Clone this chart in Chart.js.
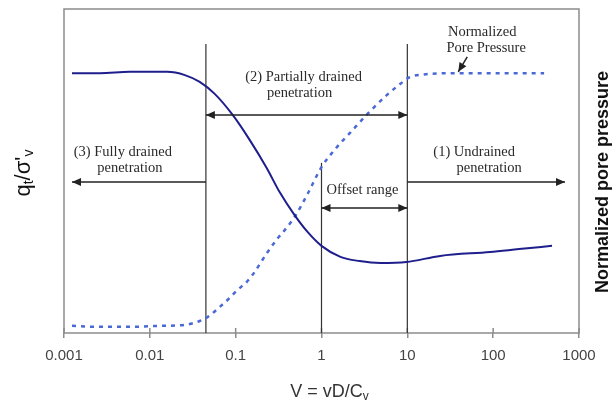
<!DOCTYPE html>
<html lang="en">
<head>
<meta charset="UTF-8">
<title>Normalized cone resistance and pore pressure vs V</title>
<script src="https://cdn.jsdelivr.net/npm/chart.js"></script>
<style>
  html, body { margin: 0; padding: 0; background: #fff; }
  #chart { display: block; }
</style>
</head>
<body>
<canvas id="chart" width="616" height="403"></canvas>
<script>
// x axis (log) ticks
const tickValues = [0.001, 0.01, 0.1, 1, 10, 100, 1000];
const tickLabels = ['0.001', '0.01', '0.1', '1', '10', '100', '1000'];

// qt/sigma'v curve (solid), y in arbitrary units 0-100
const resistV = [0.00124, 0.00262, 0.00585, 0.0158, 0.0256, 0.0381, 0.057, 0.0923, 0.1455, 0.229, 0.325, 0.486, 0.688, 1.0, 1.66, 2.77, 4.86, 9.73, 24.2, 92, 200, 485];
const resistQ = [80.2, 80.2, 80.6, 80.6, 79.6, 77.5, 73.8, 67.3, 59.6, 51.0, 43.5, 36.4, 31.2, 26.9, 23.5, 22.2, 21.6, 21.9, 23.8, 25.0, 25.9, 26.9];

// normalized pore pressure (dotted)
const poreV = [0.00124, 0.00262, 0.00585, 0.013, 0.0256, 0.0381, 0.047, 0.065, 0.085, 0.105, 0.134, 0.166, 0.229, 0.30, 0.39, 0.486, 0.688, 1.0, 1.45, 2.19, 3.43, 5.8, 8.3, 10.7, 15.7, 40, 392];
const poreU = [2.2, 1.9, 1.9, 2.2, 2.5, 3.7, 4.9, 8.0, 10.8, 13.3, 15.7, 18.8, 24.5, 28.8, 32.4, 35.8, 42.9, 51.2, 56.8, 62.0, 67.6, 73.5, 76.9, 79.0, 79.8, 80.2, 80.2];

// drainage boundaries (vertical lines)
const boundaryV = [0.045, 1, 10];
const boundaryTop = [89.2, 52.5, 89.2];

// horizontal arrows
const arrowFrom = [0.045, 0.045, 10, 1];
const arrowTo = [10, 0.00124, 687, 10];
const arrowLevel = [67.3, 46.6, 46.6, 38.6];
const arrowBoth = [true, false, false, true];

// text notes
const noteText = ['(2) Partially drained', 'penetration', '(3) Fully drained', 'penetration', '(1) Undrained', 'penetration', 'Offset range', 'Normalized', 'Pore Pressure'];
const noteV = [0.618, 0.555, 0.00485, 0.00585, 60.1, 89.8, 3.0, 74.5, 83];
const noteY = [79.0, 74.1, 55.9, 50.9, 55.9, 50.9, 44.1, 92.9, 88.0];

// pointer from the "Pore Pressure" note to the dotted curve
const pointerV = [49.9, 39.2];
const pointerY = [85.2, 80.6];

function arrowHead(ctx, tx, ty, ang) {
  const len = 9, half = 4;
  ctx.beginPath();
  ctx.moveTo(tx, ty);
  ctx.lineTo(tx - len * Math.cos(ang) - half * Math.sin(ang), ty - len * Math.sin(ang) + half * Math.cos(ang));
  ctx.lineTo(tx - len * Math.cos(ang) + half * Math.sin(ang), ty - len * Math.sin(ang) - half * Math.cos(ang));
  ctx.closePath();
  ctx.fill();
}

function drawParts(ctx, parts, x, y) {
  // parts: [text, font, dy]
  let w = 0;
  parts.forEach(p => { ctx.font = p[1]; w += ctx.measureText(p[0]).width; });
  let cx = x - w / 2;
  parts.forEach(p => {
    ctx.font = p[1];
    ctx.fillText(p[0], cx, y + p[2]);
    cx += ctx.measureText(p[0]).width;
  });
}

const overlay = {
  id: 'overlay',
  beforeDatasetsDraw(chart) {
    const { ctx, chartArea: a, scales: { x, y } } = chart;
    ctx.save();
    ctx.strokeStyle = '#8c8c8c';
    ctx.lineWidth = 1.5;
    ctx.strokeRect(a.left, a.top, a.right - a.left, a.bottom - a.top);
    ctx.beginPath();
    tickValues.forEach(v => {
      const px = x.getPixelForValue(v);
      ctx.moveTo(px, a.bottom - 5);
      ctx.lineTo(px, a.bottom);
    });
    ctx.stroke();

    ctx.strokeStyle = '#333';
    ctx.lineWidth = 1.2;
    boundaryV.forEach((v, i) => {
      const px = x.getPixelForValue(v);
      ctx.beginPath();
      ctx.moveTo(px, y.getPixelForValue(boundaryTop[i]));
      ctx.lineTo(px, a.bottom);
      ctx.stroke();
    });
    ctx.restore();
  },
  afterDatasetsDraw(chart) {
    const { ctx, chartArea: a, scales: { x, y } } = chart;
    ctx.save();
    ctx.strokeStyle = '#222';
    ctx.fillStyle = '#222';
    ctx.lineWidth = 1.5;
    arrowFrom.forEach((v, i) => {
      const x1 = x.getPixelForValue(v), x2 = x.getPixelForValue(arrowTo[i]);
      const py = y.getPixelForValue(arrowLevel[i]);
      ctx.beginPath();
      ctx.moveTo(x1, py);
      ctx.lineTo(x2, py);
      ctx.stroke();
      const dir = x2 > x1 ? 0 : Math.PI;
      arrowHead(ctx, x2, py, dir);
      if (arrowBoth[i]) arrowHead(ctx, x1, py, dir + Math.PI);
    });

    // pointer
    const p1x = x.getPixelForValue(pointerV[0]), p1y = y.getPixelForValue(pointerY[0]);
    const p2x = x.getPixelForValue(pointerV[1]), p2y = y.getPixelForValue(pointerY[1]);
    ctx.beginPath();
    ctx.moveTo(p1x, p1y);
    ctx.lineTo(p2x, p2y);
    ctx.stroke();
    arrowHead(ctx, p2x, p2y, Math.atan2(p2y - p1y, p2x - p1x));

    // notes
    ctx.fillStyle = '#2a2a2a';
    ctx.font = '14.5px "Liberation Serif", "Times New Roman", serif';
    ctx.textAlign = 'center';
    ctx.textBaseline = 'middle';
    noteText.forEach((t, i) => {
      ctx.fillText(t, x.getPixelForValue(noteV[i]), y.getPixelForValue(noteY[i]));
    });

    // x title
    ctx.textAlign = 'left';
    ctx.fillStyle = '#333';
    drawParts(ctx, [
      ['V = vD/C', '18px Arial, "Liberation Sans", sans-serif', 0],
      ['v', '12px Arial, "Liberation Sans", sans-serif', 5]
    ], (a.left + a.right) / 2 + 8, 392);

    // left y title
    ctx.save();
    ctx.translate(24, 173);
    ctx.rotate(-Math.PI / 2);
    ctx.fillStyle = '#111';
    drawParts(ctx, [
      ['q', '22px Arial, "Liberation Sans", sans-serif', 0],
      ['t', '14px Arial, "Liberation Sans", sans-serif', 5],
      ['/\u03c3\'', '22px Arial, "Liberation Sans", sans-serif', 0],
      ['v', '14px Arial, "Liberation Sans", sans-serif', 5]
    ], 0, 0);
    ctx.restore();

    // right y title
    ctx.save();
    ctx.translate(603, 182);
    ctx.rotate(-Math.PI / 2);
    ctx.fillStyle = '#111';
    ctx.textAlign = 'center';
    ctx.font = 'bold 18px Arial, "Liberation Sans", sans-serif';
    ctx.fillText('Normalized pore pressure', 0, 0);
    ctx.restore();

    ctx.restore();
  }
};

new Chart(document.getElementById('chart'), {
  type: 'line',
  data: {
    datasets: [
      {
        label: 'qt/σ\'v',
        data: resistV.map((v, i) => ({ x: v, y: resistQ[i] })),
        borderColor: '#1e1e8c',
        borderWidth: 2,
        pointRadius: 0,
        cubicInterpolationMode: 'monotone',
        fill: false
      },
      {
        label: 'Normalized pore pressure',
        data: poreV.map((v, i) => ({ x: v, y: poreU[i] })),
        borderColor: '#4a68d6',
        borderWidth: 2.5,
        borderDash: [4, 5],
        pointRadius: 0,
        cubicInterpolationMode: 'monotone',
        fill: false
      }
    ]
  },
  options: {
    responsive: false,
    devicePixelRatio: 1,
    animation: false,
    layout: { padding: { left: 64, right: 37, top: 9, bottom: 0 } },
    plugins: { legend: { display: false }, tooltip: { enabled: false } },
    scales: {
      x: {
        type: 'logarithmic',
        min: 0.001,
        max: 1000,
        afterBuildTicks: s => { s.ticks = tickValues.map(v => ({ value: v })); },
        afterFit: s => { s.height = 70; },
        ticks: {
          autoSkip: false,
          maxRotation: 0,
          padding: 9,
          color: '#444',
          font: { family: 'Arial, "Liberation Sans", sans-serif', size: 15 },
          callback: (val, i) => tickLabels[i]
        },
        grid: { drawOnChartArea: false, tickLength: 5, color: '#8c8c8c', lineWidth: 1.5 },
        border: { display: false }
      },
      y: { display: false, min: 0, max: 100 }
    }
  },
  plugins: [overlay]
});
</script>
</body>
</html>
